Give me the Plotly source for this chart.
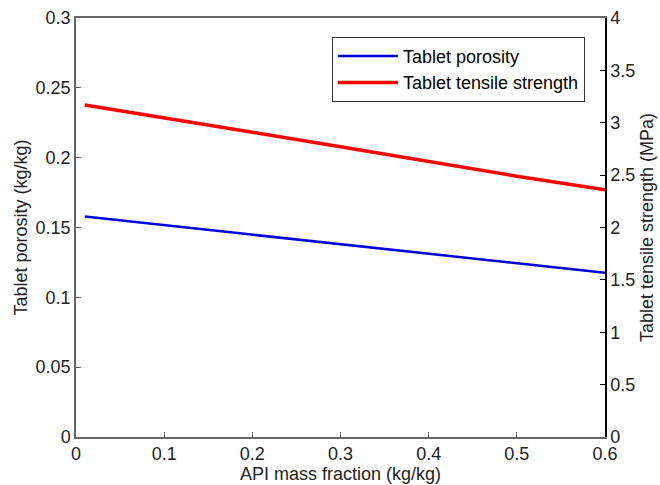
import plotly.graph_objects as go

api_fraction = [0.01, 0.1, 0.2, 0.3, 0.4, 0.5, 0.6]
porosity = [0.1578, 0.1516, 0.1448, 0.1380, 0.1312, 0.1244, 0.1176]
tensile = [3.17, 3.05, 2.91, 2.77, 2.63, 2.49, 2.36]

x_ticks = [0, 0.1, 0.2, 0.3, 0.4, 0.5, 0.6]
x_ticklabels = ["0", "0.1", "0.2", "0.3", "0.4", "0.5", "0.6"]
y1_ticks = [0, 0.05, 0.1, 0.15, 0.2, 0.25, 0.3]
y1_ticklabels = ["0", "0.05", "0.1", "0.15", "0.2", "0.25", "0.3"]
y2_ticks = [0, 0.5, 1, 1.5, 2, 2.5, 3, 3.5, 4]
y2_ticklabels = ["0", "0.5", "1", "1.5", "2", "2.5", "3", "3.5", "4"]

font_family = "Arial, Liberation Sans, sans-serif"

fig = go.Figure()
fig.add_trace(go.Scatter(x=api_fraction, y=porosity, mode="lines",
                         name="Tablet porosity",
                         line=dict(color="#0000dd", width=2.5)))
fig.add_trace(go.Scatter(x=api_fraction, y=tensile, mode="lines",
                         name="Tablet tensile strength",
                         line=dict(color="#ff0000", width=3.5), yaxis="y2"))

fig.update_layout(
    width=660, height=485,
    margin=dict(l=76, r=55, t=18, b=48),
    paper_bgcolor="white", plot_bgcolor="white",
    font=dict(family=font_family, size=18, color="#222"),
    showlegend=True,
    legend=dict(x=0.962, y=0.955, xanchor="right", yanchor="top",
                bordercolor="#333", borderwidth=1, bgcolor="white",
                font=dict(size=18, color="#000"),
                tracegroupgap=0, itemwidth=60),
    xaxis=dict(range=[0, 0.6], tickvals=x_ticks, ticktext=x_ticklabels,
               ticks="inside", ticklen=5, tickcolor="#666",
               showline=True, linecolor="#666", linewidth=1.5, mirror=True,
               showgrid=False, zeroline=False, automargin=False,
               title=dict(text="API mass fraction (kg/kg)", standoff=3,
                          font=dict(size=18))),
    yaxis=dict(range=[0, 0.3], tickvals=y1_ticks, ticktext=y1_ticklabels,
               ticks="inside", ticklen=5, tickcolor="#666",
               showline=True, linecolor="#666", linewidth=1.5,
               showgrid=False, zeroline=False, automargin=False,
               title=dict(text="Tablet porosity (kg/kg)", standoff=3,
                          font=dict(size=18))),
    yaxis2=dict(range=[0, 4], tickvals=y2_ticks, ticktext=y2_ticklabels,
                overlaying="y", side="right",
                ticks="inside", ticklen=5, tickcolor="#000",
                showline=True, linecolor="#000", linewidth=1.5,
                showgrid=False, zeroline=False, automargin=False,
                title=dict(text="Tablet tensile strength (MPa)", standoff=6,
                           font=dict(size=18))),
)

fig.write_html("out.html")
